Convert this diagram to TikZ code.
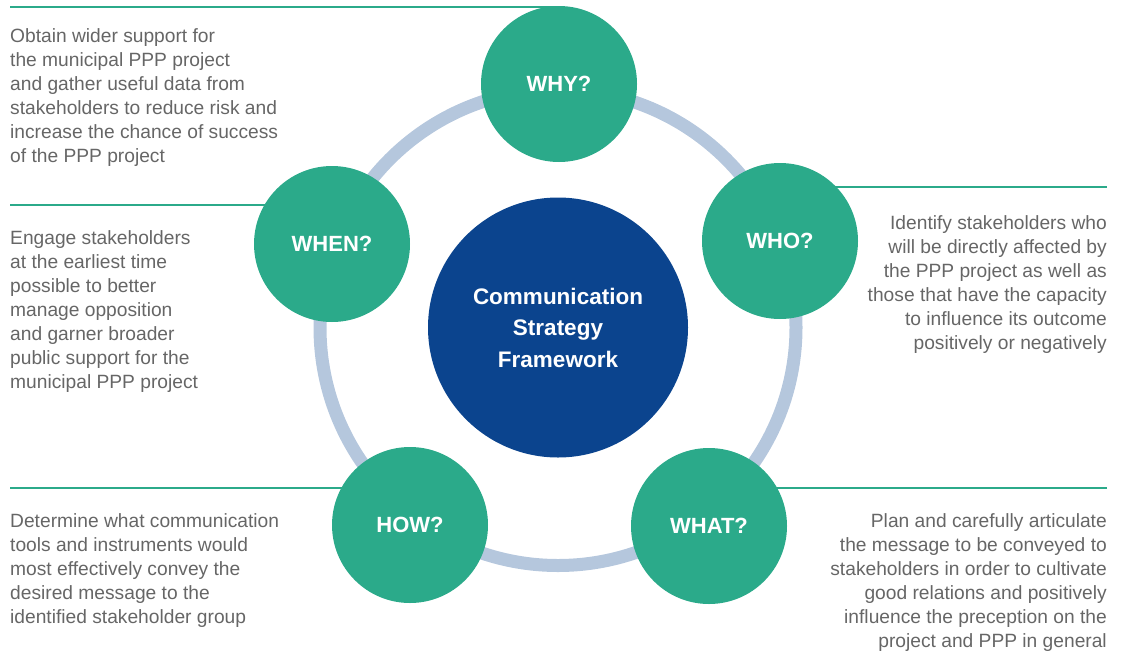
\documentclass[tikz,border=0pt]{standalone}
\usepackage{fontspec}
\setmainfont{Liberation Sans}
\usetikzlibrary{backgrounds}
\definecolor{grn}{HTML}{2BAA8A}
\definecolor{navy}{HTML}{0B448E}
\definecolor{ringc}{HTML}{B5C7DD}
\definecolor{txt}{HTML}{666666}
\begin{document}
\begin{tikzpicture}[x=1pt,y=-1pt,
 stage/.style={circle,fill=grn,minimum size=156pt,inner sep=0pt,text=white,font=\bfseries\fontsize{22}{26}\selectfont},
 hub/.style={circle,fill=navy,minimum size=260pt,inner sep=0pt,text=white,align=center,font=\bfseries\fontsize{22.5}{31.5}\selectfont},
 descl/.style={text=txt,inner sep=0pt,align=left,anchor=base west,font=\fontsize{19.2}{24}\selectfont},
 descr/.style={text=txt,inner sep=0pt,align=right,anchor=base east,font=\fontsize{19.2}{24}\selectfont},
 leader/.style={draw=grn,line width=2.6pt},
 ring/.style={draw=ringc,line width=13pt}]
\useasboundingbox (0,0) rectangle (1122,651);
\node[hub] (hub) at (558,327.5) {Communication\\Strategy\\Framework};
\node[stage] (why) at (559,84) {WHY?};
\node[stage] (who) at (780,241) {WHO?};
\node[stage] (when) at (332,244) {WHEN?};
\node[stage] (how) at (410,525) {HOW?};
\node[stage] (what) at (709,526) {WHAT?};
\coordinate (whyL) at (10,7);
\coordinate (whenL) at (10,205);
\coordinate (whoR) at (1107,187);
\coordinate (howL) at (10,488);
\coordinate (whatR) at (1107,488);
\begin{scope}[on background layer]
\draw[ring] (hub.center) circle (238pt);
\draw[leader] (whyL) -- (why.center |- whyL);
\draw[leader] (whenL) -- (when.center |- whenL);
\draw[leader] (whoR) -- (who.center |- whoR);
\draw[leader] (howL) -- (how.center |- howL);
\draw[leader] (whatR) -- (what.center |- whatR);
\end{scope}
\node[descl] (whytext) at (10,162) {Obtain wider support for\\the municipal PPP project\\and gather useful data from\\stakeholders to reduce risk and\\increase the chance of success\\of the PPP project};
\node[descl] (whentext) at (10,388) {Engage stakeholders\\at the earliest time\\possible to better\\manage opposition\\and garner broader\\public support for the\\municipal PPP project};
\node[descl] (howtext) at (10,623) {Determine what communication\\tools and instruments would\\most effectively convey the\\desired message to the\\identified stakeholder group};
\node[descr] (whotext) at (1107,349) {Identify stakeholders who\\will be directly affected by\\the PPP project as well as\\those that have the capacity\\to influence its outcome\\positively or negatively};
\node[descr] (whattext) at (1107,647) {Plan and carefully articulate\\the message to be conveyed to\\stakeholders in order to cultivate\\good relations and positively\\influence the preception on the\\project and PPP in general};
\end{tikzpicture}
\end{document}
